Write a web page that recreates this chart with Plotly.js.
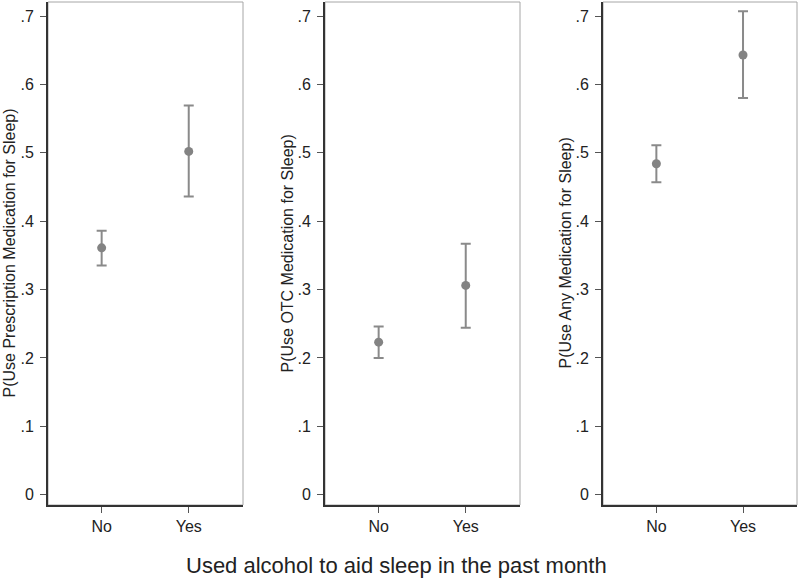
<!DOCTYPE html>
<html>
<head>
<meta charset="utf-8">
<script src="https://cdn.plot.ly/plotly-3.0.1.min.js"></script>
<style>html,body{margin:0;padding:0;background:#fff;}#chart{width:800px;height:579px;}</style>
</head>
<body>
<div id="chart"></div>
<script>
// ---- Data ----
const categories = ["No", "Yes"];
const categoryPos = [0, 1];
const yTickVals = [0, 0.1, 0.2, 0.3, 0.4, 0.5, 0.6, 0.7];
const yTickText = ["0", ".1", ".2", ".3", ".4", ".5", ".6", ".7"];

const prescriptionEst = [0.361, 0.502];
const prescriptionLo  = [0.335, 0.436];
const prescriptionHi  = [0.386, 0.569];

const otcEst = [0.223, 0.306];
const otcLo  = [0.200, 0.244];
const otcHi  = [0.246, 0.367];

const anyEst = [0.484, 0.643];
const anyLo  = [0.457, 0.580];
const anyHi  = [0.511, 0.707];

const panelTitles = [
  "P(Use Prescription Medication for Sleep)",
  "P(Use OTC Medication for Sleep)",
  "P(Use Any Medication for Sleep)"
];
const xTitle = "Used alcohol to aid sleep in the past month";

// ---- Build ----
const FONT = "Arial, 'Liberation Sans', Helvetica, sans-serif";
const markColor = "#838383";
const panels = [
  {est: prescriptionEst, lo: prescriptionLo, hi: prescriptionHi},
  {est: otcEst, lo: otcLo, hi: otcHi},
  {est: anyEst, lo: anyLo, hi: anyHi}
];
const axSuffix = ["", "2", "3"];

const traces = panels.map((p, i) => ({
  type: "scatter",
  mode: "markers",
  x: categoryPos,
  y: p.est,
  xaxis: "x" + axSuffix[i],
  yaxis: "y" + axSuffix[i],
  marker: {color: markColor, size: 9},
  error_y: {
    type: "data",
    symmetric: false,
    array: p.hi.map((h, k) => h - p.est[k]),
    arrayminus: p.est.map((e, k) => e - p.lo[k]),
    color: "#8a8a8a",
    thickness: 2,
    width: 5
  },
  showlegend: false,
  hoverinfo: "x+y"
}));

const W = 800;
const domainsPx = [[48, 243], [325, 520], [603, 797]];
const titleXPx = [9, 287, 565];

const layout = {
  width: 800,
  height: 579,
  margin: {l: 0, r: 0, t: 2, b: 74},
  paper_bgcolor: "#ffffff",
  plot_bgcolor: "#ffffff",
  font: {family: FONT, size: 16, color: "#222"},
  showlegend: false,
  shapes: [],
  annotations: []
};

domainsPx.forEach((d, i) => {
  const s = axSuffix[i];
  layout["xaxis" + s] = {
    domain: [d[0] / W, d[1] / W],
    range: [-0.616, 1.623],
    tickvals: categoryPos,
    ticktext: categories,
    ticks: "outside",
    ticklen: 6,
    tickwidth: 1,
    tickcolor: "#555",
    showgrid: false,
    zeroline: false,
    showline: true,
    linecolor: "#333",
    linewidth: 2,
    anchor: "y" + s,
    fixedrange: true,
    tickfont: {family: FONT, size: 16, color: "#222"}
  };
  layout["yaxis" + s] = {
    range: [-0.0151, 0.7205],
    tickvals: yTickVals,
    ticktext: yTickText,
    ticks: "outside",
    ticklen: 6,
    tickwidth: 1,
    tickcolor: "#555",
    ticklabelstandoff: 3,
    showgrid: false,
    zeroline: false,
    showline: true,
    linecolor: "#333",
    linewidth: 2,
    anchor: "x" + s,
    fixedrange: true,
    tickfont: {family: FONT, size: 16, color: "#222"}
  };
  layout.shapes.push({
    type: "rect",
    xref: "x" + s + " domain",
    yref: "y" + s + " domain",
    x0: 0, x1: 1, y0: 0, y1: 1,
    line: {color: "#a6a6a6", width: 1},
    layer: "below"
  });
  layout.annotations.push({
    text: panelTitles[i],
    xref: "paper", yref: "paper",
    x: titleXPx[i] / W, y: 0.5,
    xanchor: "center", yanchor: "middle",
    textangle: -90,
    showarrow: false,
    font: {family: FONT, size: 16, color: "#222"}
  });
});

layout.annotations.push({
  text: xTitle,
  xref: "paper", yref: "paper",
  x: 396.5 / W, y: (505 - 565) / 503,
  xanchor: "center", yanchor: "middle",
  showarrow: false,
  font: {family: FONT, size: 22, color: "#222"}
});

Plotly.newPlot("chart", traces, layout, {displayModeBar: false, staticPlot: true});
</script>
</body>
</html>
